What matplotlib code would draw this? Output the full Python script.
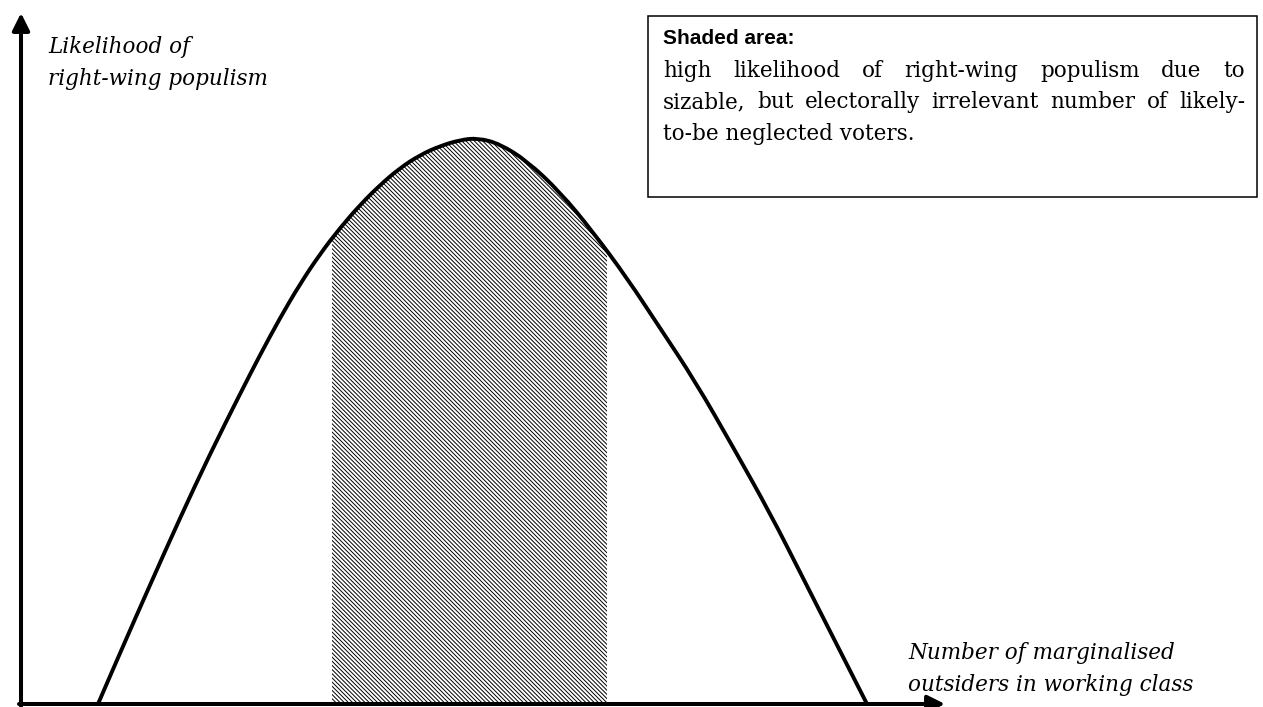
import numpy as np
import matplotlib
matplotlib.use('Agg')
from matplotlib import pyplot as plt
from matplotlib.patches import Rectangle, PathPatch
from matplotlib.path import Path

# curve (arbitrary units)
curve_x = [0.77, 0.99, 1.29, 1.59, 1.89, 2.19, 2.39, 2.59, 2.79, 2.99,
           3.19, 3.39, 3.59, 3.79, 3.99, 4.19, 4.39, 4.57,
           4.79, 5.06, 5.39, 5.72, 6.06, 6.39, 6.74, 7.12, 7.49, 7.82, 8.16, 8.46]
curve_y = [0.00, 0.51, 1.19, 1.86, 2.50, 3.10, 3.49, 3.86, 4.20, 4.50,
           4.76, 4.99, 5.19, 5.36, 5.49, 5.58, 5.64, 5.66,
           5.60, 5.43, 5.12, 4.72, 4.26, 3.76, 3.23, 2.57, 1.91, 1.26, 0.59, 0.00]

# top edge of the shaded band
shade_x = [3.11, 3.19, 3.39, 3.59, 3.79, 3.99, 4.19, 4.39, 4.57, 4.79,
           5.06, 5.39, 5.72, 5.86]
shade_y = [4.66, 4.76, 4.99, 5.19, 5.36, 5.49, 5.58, 5.64, 5.66, 5.60,
           5.43, 5.12, 4.72, 4.53]

ylabel_lines = ['Likelihood of', 'right-wing populism']
xlabel_lines = ['Number of marginalised', 'outsiders in working class']
box_title = 'Shaded area:'
box_lines = ['high likelihood of right-wing populism due to',
             'sizable, but electorally irrelevant number of likely-',
             'to-be neglected voters.']

plt.rcParams['hatch.linewidth'] = 0.7
serif = 'DejaVu Serif'
fs = 15.5

fig = plt.figure(figsize=(12.63, 7.07), dpi=100)
ax = fig.add_axes([0, 0, 1, 1])
ax.set_xlim(-0.21, 12.42)
ax.set_ylim(-0.03, 7.04)
ax.axis('off')

# shaded band under the curve
ax.fill_between(shade_x, 0, shade_y, facecolor='white', edgecolor='black',
                hatch='\\' * 8, linewidth=0)

# the curve: smooth quadratic pieces through the read points
pts = np.column_stack([curve_x, curve_y])
verts = [pts[0]]
codes = [Path.MOVETO]
for i in range(1, len(pts) - 1):
    verts += [pts[i], (pts[i] + pts[i + 1]) / 2]
    codes += [Path.CURVE3, Path.CURVE3]
verts.append(pts[-1])
codes.append(Path.LINETO)
ax.add_patch(PathPatch(Path(verts, codes), facecolor='none',
                       edgecolor='black', lw=2.8, capstyle='butt'))

# axes with arrow heads
arrow = dict(arrowstyle='-|>', color='black', lw=2.9, mutation_scale=26,
             shrinkA=0, shrinkB=0)
ax.annotate('', xy=(9.24, 0), xytext=(-0.02, 0), arrowprops=arrow)
ax.annotate('', xy=(0, 6.91), xytext=(0, -0.02), arrowprops=arrow)

# axis labels
ax.text(0.27, 6.51, ylabel_lines[0], family=serif, style='italic', fontsize=fs)
ax.text(0.27, 6.19, ylabel_lines[1], family=serif, style='italic', fontsize=fs)
ax.text(8.87, 0.45, xlabel_lines[0], family=serif, style='italic', fontsize=fs)
ax.text(8.87, 0.13, xlabel_lines[1], family=serif, style='italic', fontsize=fs)

# info box
ax.add_patch(Rectangle((6.27, 5.07), 6.09, 1.81, facecolor='white',
                       edgecolor='black', lw=1.1))
ax.text(6.42, 6.60, box_title, family='Liberation Sans', weight='bold',
        fontsize=15)

# justified body text
left, right = 6.42, 12.24
base_y = [6.27, 5.96, 5.64]
fig.canvas.draw()
renderer = fig.canvas.get_renderer()
inv = ax.transData.inverted()
for i, line in enumerate(box_lines):
    if i == len(box_lines) - 1:
        ax.text(left, base_y[i], line, family=serif, fontsize=fs)
        continue
    words = line.split(' ')
    widths = []
    for w in words:
        t = ax.text(0, 0, w, family=serif, fontsize=fs)
        bb = t.get_window_extent(renderer)
        x0 = inv.transform((bb.x0, 0))[0]
        x1 = inv.transform((bb.x1, 0))[0]
        widths.append(x1 - x0)
        t.remove()
    gap = (right - left - sum(widths)) / (len(words) - 1)
    x = left
    for w, wd in zip(words, widths):
        ax.text(x, base_y[i], w, family=serif, fontsize=fs)
        x += wd + gap

plt.savefig('out.png', dpi=100)
